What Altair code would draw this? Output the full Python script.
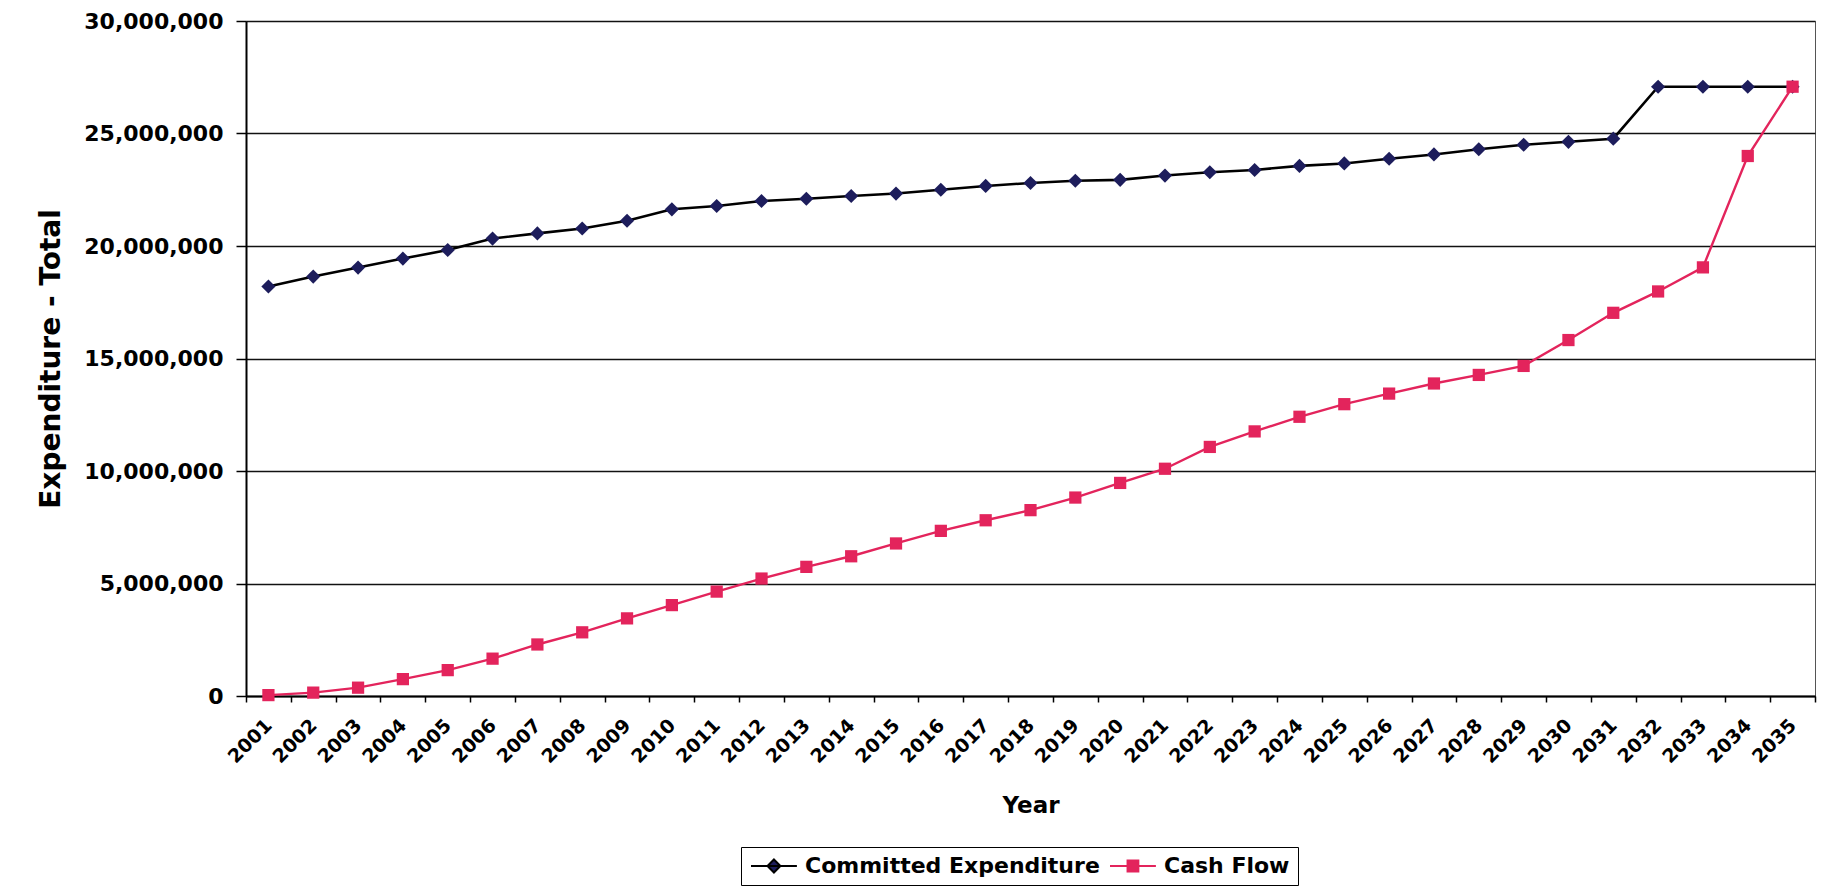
import altair as alt
import pandas as pd

# Annual totals, 2001-2035
years = list(range(2001, 2036))

committed_expenditure = [
    18_200_000, 18_640_000, 19_040_000, 19_440_000, 19_820_000,
    20_330_000, 20_560_000, 20_780_000, 21_120_000, 21_630_000,
    21_780_000, 22_000_000, 22_100_000, 22_220_000, 22_330_000,
    22_500_000, 22_670_000, 22_800_000, 22_900_000, 22_940_000,
    23_130_000, 23_280_000, 23_380_000, 23_560_000, 23_670_000,
    23_880_000, 24_070_000, 24_300_000, 24_500_000, 24_630_000,
    24_770_000, 27_080_000, 27_080_000, 27_080_000, 27_080_000,
]

cash_flow = [
    40_000, 150_000, 370_000, 750_000, 1_150_000,
    1_660_000, 2_290_000, 2_830_000, 3_450_000, 4_040_000,
    4_640_000, 5_220_000, 5_740_000, 6_210_000, 6_780_000,
    7_340_000, 7_810_000, 8_260_000, 8_820_000, 9_470_000,
    10_100_000, 11_070_000, 11_760_000, 12_410_000, 12_970_000,
    13_440_000, 13_890_000, 14_270_000, 14_670_000, 15_820_000,
    17_030_000, 17_980_000, 19_050_000, 24_000_000, 27_080_000,
]

series_names = ["Committed Expenditure", "Cash Flow"]
line_colors = ["#000000", "#e3245c"]
marker_colors = ["#1d1d5c", "#e3245c"]
y_ticks = [0, 5_000_000, 10_000_000, 15_000_000, 20_000_000, 25_000_000, 30_000_000]

# legend glyphs: a short line with the series marker in the middle
# (unit = half the nominal symbol diameter; the line runs to the right)
legend_glyphs = [
    "M-1,0L4.1,0M1.55,-0.72L2.27,0L1.55,0.72L0.83,0Z",
    "M-1,0L4.1,0M0.95,-0.62L2.15,-0.62L2.15,0.62L0.95,0.62Z",
]

rows = []
for name, values in zip(series_names, [committed_expenditure, cash_flow]):
    for yr, v in zip(years, values):
        rows.append({"year": yr, "series": name, "value": v})
df = pd.DataFrame(rows)

FONT = "DejaVu Sans"

x_enc = alt.X(
    "year:O",
    title="Year",
    bandPosition=0.5,
    scale=alt.Scale(type="band", paddingInner=0, paddingOuter=0),
    axis=alt.Axis(
        tickBand="extent",
        labelAngle=-45,
        labelAlign="right",
        labelBaseline="middle",
        labelFontSize=19,
        labelPadding=20,
        labelOffset=0,
        tickSize=6,
        titleFontSize=23,
        titlePadding=28,
        grid=False,
        domainWidth=2,
        tickWidth=1.5,
    ),
)

y_enc = alt.Y(
    "value:Q",
    title="Expenditure - Total",
    scale=alt.Scale(domain=[0, 30_000_000], nice=False),
    axis=alt.Axis(
        values=y_ticks,
        format=",.0f",
        labelFontSize=22,
        labelPadding=13,
        tickSize=10,
        tickWidth=1.5,
        titleFontSize=28,
        titlePadding=18,
        grid=True,
        gridColor="#111111",
        gridWidth=1.5,
        domainWidth=2,
    ),
)

base = alt.Chart(df).encode(x=x_enc, y=y_enc)

committed_line = base.transform_filter(
    alt.datum.series == series_names[0]
).mark_line(color=line_colors[0], strokeWidth=2.6)

committed_pts = base.transform_filter(
    alt.datum.series == series_names[0]
).mark_point(shape="diamond", filled=True, size=200, opacity=1,
             color=marker_colors[0])

cash_line = base.transform_filter(
    alt.datum.series == series_names[1]
).mark_line(color=line_colors[1], strokeWidth=2.4)

cash_pts = base.transform_filter(
    alt.datum.series == series_names[1]
).mark_point(shape="square", filled=True, size=150, opacity=1,
             color=marker_colors[1])

# draws nothing; carries the legend with line-and-marker glyphs
legend_layer = base.transform_filter("false").mark_point(
    filled=True, opacity=1, strokeWidth=2
).encode(
    stroke=alt.Stroke(
        "series:N",
        scale=alt.Scale(domain=series_names, range=line_colors),
        legend=alt.Legend(
            title=None,
            orient="none",
            legendX=495,
            legendY=826,
            direction="horizontal",
            strokeColor="#000000",
            padding=8,
            columnPadding=6,
            labelOffset=34,
            labelLimit=0,
            symbolSize=324,
            symbolStrokeWidth=2,
            labelFont=FONT,
            labelFontSize=22,
            labelFontWeight="bold",
            labelColor="#000000",
        ),
    ),
    fill=alt.Fill(
        "series:N",
        scale=alt.Scale(domain=series_names, range=marker_colors),
    ),
    shape=alt.Shape(
        "series:N",
        scale=alt.Scale(domain=series_names, range=legend_glyphs),
    ),
)

chart = alt.layer(
    committed_line, committed_pts, cash_line, cash_pts, legend_layer
).properties(
    width=1569,
    height=675,
    autosize=alt.AutoSizeParams(type="none"),
    padding={"left": 246, "top": 21, "right": 15, "bottom": 197},
    background="#ffffff",
).configure_axis(
    labelFont=FONT,
    titleFont=FONT,
    labelFontWeight="bold",
    titleFontWeight="bold",
    labelColor="#000000",
    titleColor="#000000",
    domainColor="#000000",
    tickColor="#000000",
).configure_view(
    stroke="#555555",
    strokeWidth=1,
)

chart.save("out.html", embed_options={"renderer": "svg", "actions": False})
